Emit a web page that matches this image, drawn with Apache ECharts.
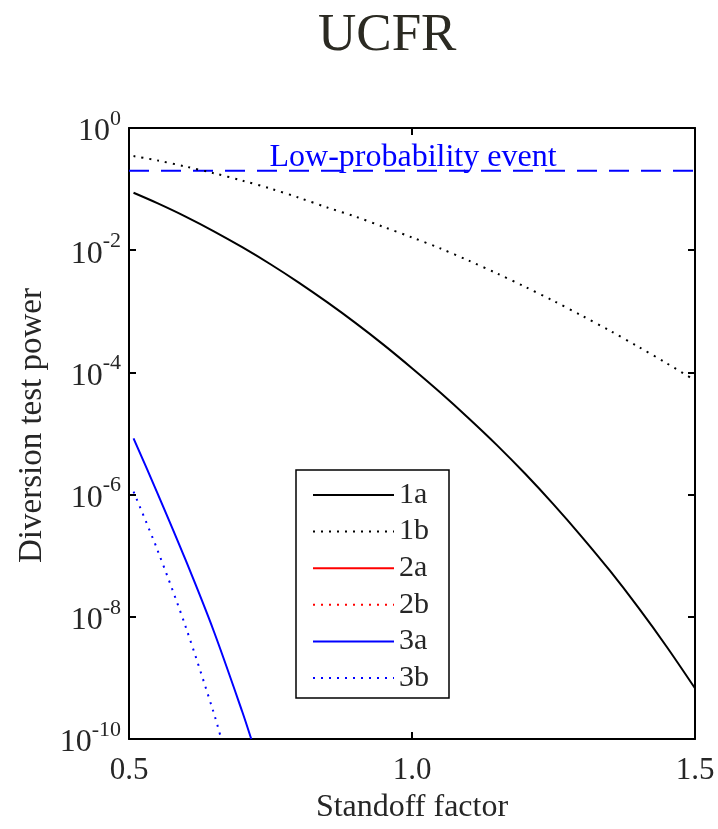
<!DOCTYPE html>
<html><head><meta charset="utf-8">
<script src="https://cdn.jsdelivr.net/npm/echarts@6/dist/echarts.min.js"></script>
<style>html,body{margin:0;padding:0;background:#fff}#chart{width:718px;height:829px}</style>
</head><body><div id="chart"></div>
<script>
// ---- text ----
const titleText = 'UCFR';
const xAxisName = 'Standoff factor';
const yAxisName = 'Diversion test power';
const thresholdLabel = 'Low-probability event';

// ---- axes ----
const xTicks = [0.5, 1.0, 1.5];
const yMin = 1e-10, yMax = 1;

// ---- series ----
const seriesNames = ['1a', '1b', '2a', '2b', '3a', '3b'];
const seriesColors = ['#000000', '#000000', '#ff0000', '#ff0000', '#0000ff', '#0000ff'];
const seriesDotted = [false, true, false, true, false, true];

const x1a = [0.508, 0.55, 0.6, 0.65, 0.7, 0.75, 0.8, 0.85, 0.9, 0.95, 1.0, 1.05, 1.1, 1.15, 1.2, 1.25, 1.3, 1.35, 1.4, 1.45, 1.5];
const y1a = [8.71e-2, 5.89e-2, 3.55e-2, 2.04e-2, 1.12e-2, 5.89e-3, 2.95e-3, 1.41e-3, 6.46e-4, 2.82e-4, 1.17e-4, 4.68e-5, 1.78e-5, 6.46e-6, 2.19e-6, 6.92e-7, 2.04e-7, 5.62e-8, 1.41e-8, 3.24e-9, 6.76e-10];

const x1b = [0.508, 0.55, 0.6, 0.65, 0.7, 0.75, 0.8, 0.85, 0.9, 0.95, 1.0, 1.05, 1.1, 1.15, 1.2, 1.25, 1.3, 1.35, 1.4, 1.45, 1.5];
const y1b = [0.347, 0.295, 0.234, 0.182, 0.138, 0.102, 7.24e-2, 5.01e-2, 3.55e-2, 2.40e-2, 1.62e-2, 1.07e-2, 6.76e-3, 4.17e-3, 2.51e-3, 1.48e-3, 8.51e-4, 4.79e-4, 2.63e-4, 1.41e-4, 7.41e-5];

// 2a / 2b lie entirely below 1e-10 over the plotted range: nothing visible
const x2a = [];
const y2a = [];
const x2b = [];
const y2b = [];

const x3a = [0.508, 0.55, 0.6, 0.65, 0.7, 0.716];
const y3a = [8.32e-6, 1.07e-6, 8.51e-8, 5.75e-9, 2.82e-10, 1e-10];

const x3b = [0.508, 0.55, 0.6, 0.65, 0.663];
const y3b = [1.12e-6, 1.26e-7, 6.92e-9, 2.63e-10, 1e-10];

const thresholdValue = 0.2;

// ---- build ----
const FONT = 'Liberation Serif';
const INK = '#262626';
const xs = [x1a, x1b, x2a, x2b, x3a, x3b];
const ys = [y1a, y1b, y2a, y2b, y3a, y3b];
const zip = (a, b) => a.map((v, i) => [v, b[i]]);

const dataSeries = seriesNames.map((name, i) => ({
  name: name,
  type: 'line',
  data: zip(xs[i], ys[i]),
  symbol: 'none',
  showSymbol: false,
  smooth: 0.3,
  color: seriesColors[i],
  lineStyle: { color: seriesColors[i], width: 2, type: seriesDotted[i] ? [2, 6] : 'solid' },
  emphasis: { disabled: true },
  z: 3
}));

const thresholdSeries = {
  name: 'threshold',
  type: 'line',
  data: [[xTicks[0], thresholdValue], [xTicks[2], thresholdValue]],
  symbol: 'none',
  color: '#0000ff',
  lineStyle: { color: '#0000ff', width: 2, type: [20, 12] },
  emphasis: { disabled: true },
  markPoint: {
    symbol: 'circle',
    symbolSize: 0,
    silent: true,
    data: [{ coord: [xTicks[1], thresholdValue] }],
    label: {
      show: true,
      position: 'top',
      distance: 0,
      offset: [1, 3],
      formatter: thresholdLabel,
      color: '#0000ff',
      fontFamily: FONT,
      fontSize: 32,
      lineHeight: 32
    }
  },
  z: 2
};

const yLabelRich = {
  b: { fontFamily: FONT, fontSize: 32, color: INK, lineHeight: 40, verticalAlign: 'bottom' },
  s: { fontFamily: FONT, fontSize: 22, color: INK, lineHeight: 20, verticalAlign: 'top' }
};

const chart = echarts.init(document.getElementById('chart'), null, { renderer: 'canvas' });
chart.setOption({
  backgroundColor: '#ffffff',
  animation: false,
  title: {
    text: titleText,
    left: 318,
    top: 10,
    padding: 0,
    textStyle: { fontFamily: FONT, fontSize: 53, fontWeight: 'normal', color: '#2b2a22', lineHeight: 53 }
  },
  legend: {
    orient: 'vertical',
    left: 296,
    top: 470,
    padding: [10, 20, 5, 16],
    itemWidth: 81,
    itemHeight: 14,
    itemGap: 6.6,
    backgroundColor: '#ffffff',
    borderColor: '#000000',
    borderWidth: 1.5,
    data: seriesNames,
    selectedMode: false,
    itemStyle: { opacity: 0 },
    textStyle: { fontFamily: FONT, fontSize: 30, color: INK, lineHeight: 30 }
  },
  grid: { left: 129, top: 128, width: 566, height: 618, containLabel: false },
  xAxis: [{
    type: 'value',
    position: 'bottom',
    min: xTicks[0], max: xTicks[2], interval: 0.5,
    name: xAxisName,
    nameLocation: 'middle',
    nameGap: 53,
    nameTextStyle: { fontFamily: FONT, fontSize: 32, color: INK, lineHeight: 32 },
    axisLine: { show: true, onZero: false, lineStyle: { color: '#000', width: 2 } },
    axisTick: { show: true, inside: true, length: 7, lineStyle: { color: '#000', width: 2 } },
    axisLabel: { margin: 16, fontFamily: FONT, fontSize: 31, lineHeight: 31, color: INK, formatter: v => v.toFixed(1) },
    splitLine: { show: false }
  }, {
    type: 'value',
    position: 'top',
    min: xTicks[0], max: xTicks[2], interval: 0.5,
    axisLine: { show: true, onZero: false, lineStyle: { color: '#000', width: 2 } },
    axisTick: { show: true, inside: true, length: 7, lineStyle: { color: '#000', width: 2 } },
    axisLabel: { show: false },
    splitLine: { show: false }
  }],
  yAxis: [{
    type: 'log',
    logBase: 10,
    position: 'left',
    min: yMin, max: yMax, interval: 2,
    name: yAxisName,
    nameLocation: 'middle',
    nameGap: 80,
    nameRotate: 90,
    nameTextStyle: { fontFamily: FONT, fontSize: 33, color: INK, lineHeight: 33, padding: [0, 0, 0, 16] },
    axisLine: { show: true, onZero: false, lineStyle: { color: '#000', width: 2 } },
    axisTick: { show: true, inside: true, length: 7, lineStyle: { color: '#000', width: 2 } },
    minorTick: { show: false },
    axisLabel: {
      margin: 8,
      showMinLabel: true,
      showMaxLabel: true,
      formatter: v => '{b|10}{s|' + Math.round(Math.log10(v)) + '}',
      rich: yLabelRich
    },
    splitLine: { show: false }
  }, {
    type: 'log',
    logBase: 10,
    position: 'right',
    min: yMin, max: yMax, interval: 2,
    axisLine: { show: true, onZero: false, lineStyle: { color: '#000', width: 2 } },
    axisTick: { show: true, inside: true, length: 7, lineStyle: { color: '#000', width: 2 } },
    axisLabel: { show: false },
    splitLine: { show: false }
  }],
  series: [thresholdSeries].concat(dataSeries)
});
</script>
</body></html>
